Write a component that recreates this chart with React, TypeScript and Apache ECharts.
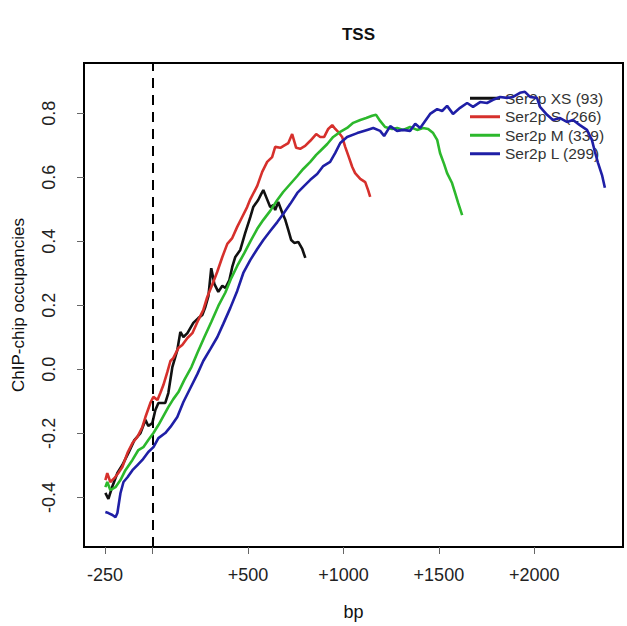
import React, { useEffect, useRef } from "react";
import * as echarts from "echarts";

// Ser2p XS (93)
const xsBp = [-248, -232, -211, -185, -159, -127, -96, -64, -38, -23, -2, 14, 30, 66, 82, 103, 129, 145, 161, 182, 213, 239, 260, 276, 292, 307, 323, 344, 365, 381, 402, 417, 433, 459, 485, 512, 527, 553, 569, 580, 595, 616, 632, 642, 658, 679, 695, 711, 726, 742, 763, 784, 800];
const xsVal = [-0.386, -0.405, -0.365, -0.324, -0.299, -0.261, -0.221, -0.199, -0.158, -0.177, -0.168, -0.127, -0.105, -0.105, -0.074, 0.007, 0.06, 0.117, 0.101, 0.113, 0.145, 0.16, 0.17, 0.195, 0.229, 0.316, 0.267, 0.242, 0.261, 0.254, 0.279, 0.32, 0.351, 0.373, 0.426, 0.476, 0.507, 0.529, 0.548, 0.56, 0.538, 0.507, 0.513, 0.498, 0.523, 0.489, 0.467, 0.435, 0.404, 0.395, 0.398, 0.376, 0.348];

// Ser2p S (266)
const sBp = [-248, -238, -222, -201, -180, -159, -132, -106, -80, -54, -38, -12, 4, 25, 40, 56, 77, 93, 108, 135, 155, 182, 208, 239, 265, 286, 312, 338, 365, 391, 417, 443, 469, 495, 512, 548, 574, 600, 626, 642, 669, 695, 711, 731, 752, 773, 799, 826, 857, 878, 899, 920, 941, 957, 972, 993, 1009, 1030, 1046, 1061, 1088, 1114, 1129, 1140];
const sVal = [-0.346, -0.324, -0.352, -0.34, -0.324, -0.305, -0.261, -0.23, -0.211, -0.18, -0.149, -0.105, -0.086, -0.096, -0.074, -0.049, -0.008, 0.026, 0.035, 0.067, 0.076, 0.098, 0.113, 0.154, 0.185, 0.226, 0.264, 0.304, 0.351, 0.392, 0.41, 0.445, 0.476, 0.507, 0.532, 0.573, 0.617, 0.648, 0.663, 0.695, 0.692, 0.701, 0.707, 0.735, 0.692, 0.689, 0.698, 0.714, 0.735, 0.726, 0.726, 0.751, 0.763, 0.751, 0.742, 0.726, 0.695, 0.66, 0.632, 0.613, 0.595, 0.585, 0.56, 0.539];

// Ser2p M (339)
const mBp = [-248, -238, -222, -195, -169, -143, -106, -75, -49, -23, 4, 30, 56, 82, 108, 135, 166, 203, 234, 271, 307, 344, 381, 412, 443, 480, 512, 548, 580, 616, 653, 684, 721, 758, 789, 826, 857, 878, 915, 946, 983, 1019, 1051, 1088, 1119, 1150, 1171, 1192, 1218, 1255, 1281, 1313, 1349, 1386, 1417, 1444, 1470, 1491, 1506, 1527, 1543, 1569, 1585, 1601, 1622];
const mVal = [-0.368, -0.352, -0.377, -0.368, -0.346, -0.315, -0.283, -0.252, -0.243, -0.221, -0.199, -0.174, -0.146, -0.118, -0.093, -0.071, -0.033, 0.007, 0.051, 0.101, 0.148, 0.198, 0.24, 0.285, 0.323, 0.363, 0.4, 0.439, 0.467, 0.495, 0.529, 0.554, 0.579, 0.604, 0.626, 0.648, 0.67, 0.682, 0.704, 0.726, 0.742, 0.754, 0.77, 0.779, 0.785, 0.792, 0.795, 0.776, 0.757, 0.751, 0.754, 0.748, 0.757, 0.748, 0.754, 0.751, 0.738, 0.717, 0.676, 0.642, 0.613, 0.582, 0.551, 0.52, 0.482];

// Ser2p L (299)
const lBp = [-248, -232, -211, -195, -185, -169, -153, -132, -106, -80, -54, -23, 4, 30, 66, 93, 129, 161, 197, 234, 265, 302, 339, 370, 407, 443, 475, 512, 548, 580, 616, 653, 684, 721, 758, 789, 826, 862, 894, 930, 957, 983, 1019, 1072, 1124, 1156, 1192, 1213, 1245, 1281, 1313, 1349, 1376, 1402, 1428, 1454, 1491, 1517, 1543, 1574, 1611, 1648, 1679, 1716, 1752, 1784, 1821, 1857, 1889, 1925, 1951, 1978, 2014, 2030, 2067, 2098, 2135, 2171, 2203, 2239, 2276, 2302, 2318, 2334, 2355, 2370];
const lVal = [-0.446, -0.449, -0.455, -0.462, -0.449, -0.387, -0.352, -0.337, -0.315, -0.299, -0.283, -0.258, -0.243, -0.215, -0.199, -0.18, -0.149, -0.102, -0.059, -0.015, 0.026, 0.063, 0.101, 0.142, 0.192, 0.245, 0.301, 0.342, 0.376, 0.404, 0.432, 0.46, 0.485, 0.517, 0.551, 0.57, 0.592, 0.61, 0.635, 0.648, 0.676, 0.707, 0.726, 0.738, 0.748, 0.754, 0.745, 0.729, 0.76, 0.745, 0.748, 0.745, 0.767, 0.754, 0.776, 0.798, 0.813, 0.807, 0.823, 0.798, 0.817, 0.832, 0.82, 0.835, 0.832, 0.842, 0.851, 0.848, 0.851, 0.864, 0.867, 0.851, 0.848, 0.82, 0.795, 0.779, 0.785, 0.773, 0.779, 0.763, 0.748, 0.717, 0.679, 0.645, 0.607, 0.567];

const seriesNames = ["Ser2p XS (93)", "Ser2p S (266)", "Ser2p M (339)", "Ser2p L (299)"];
const seriesColors = ["#111111", "#d6302c", "#2cb82c", "#1f1fa6"];
const xTicks = [-250, 0, 500, 1000, 1500, 2000];
const xLabels = [-250, 500, 1000, 1500, 2000];
const yTicks = [-0.4, -0.2, 0, 0.2, 0.4, 0.6, 0.8];

const FONT = "'Liberation Sans', Arial, Helvetica, sans-serif";

function pairs(xs: number[], ys: number[]) {
  return xs.map((x, i) => [x, ys[i]]);
}

export default function App() {
  const ref = useRef<HTMLDivElement>(null);
  useEffect(() => {
    if (!ref.current) return;
    const chart = echarts.init(ref.current, null, { renderer: "svg" });
    const dataSets = [pairs(xsBp, xsVal), pairs(sBp, sVal), pairs(mBp, mVal), pairs(lBp, lVal)];
    const series: any[] = dataSets.map((d, i) => ({
      name: seriesNames[i],
      type: "line",
      data: d,
      showSymbol: false,
      symbol: "none",
      color: seriesColors[i],
      lineStyle: { width: 2.6, color: seriesColors[i] },
      z: 3 + i,
    }));
    series[0].markLine = {
      silent: true,
      symbol: ["none", "none"],
      label: { show: false },
      lineStyle: { color: "#000", type: [10, 7], width: 2 },
      data: [{ xAxis: 0 }],
    };
    chart.setOption({
      animation: false,
      backgroundColor: "#fff",
      textStyle: { fontFamily: FONT },
      title: {
        text: "TSS",
        left: 353.5,
        top: 21,
        textAlign: "center",
        textStyle: { fontSize: 17, fontWeight: "bold", color: "#111", fontFamily: FONT },
      },
      legend: {
        orient: "vertical",
        left: 465,
        top: 84,
        itemWidth: 30,
        itemHeight: 3,
        itemGap: 0,
        itemTextGap: 13,
        icon: "rect",
        selectedMode: false,
        data: seriesNames,
        textStyle: { fontSize: 15.5, lineHeight: 18.5, color: "#333", fontFamily: FONT },
      },
      grid: {
        left: 84,
        right: 4,
        top: 63,
        bottom: 79,
        show: true,
        borderColor: "#000",
        borderWidth: 2,
        containLabel: false,
      },
      xAxis: {
        type: "value",
        min: -360,
        max: 2465,
        name: "bp",
        nameLocation: "middle",
        nameGap: 56,
        nameTextStyle: { fontSize: 18, color: "#111", fontFamily: FONT },
        splitLine: { show: false },
        axisLine: { show: true, onZero: false, lineStyle: { color: "#000", width: 2 } },
        axisTick: { show: true, customValues: xTicks, length: 7, lineStyle: { color: "#666", width: 1 } },
        axisLabel: {
          customValues: xLabels,
          fontSize: 18,
          color: "#222",
          margin: 19,
          fontFamily: FONT,
          formatter: (v: number) => (v > 0 ? "+" + v : String(v)),
        },
      },
      yAxis: {
        type: "value",
        min: -0.555,
        max: 0.957,
        name: "ChIP-chip occupancies",
        nameLocation: "middle",
        nameGap: 57,
        nameRotate: 90,
        nameTextStyle: { fontSize: 17, color: "#111", fontFamily: FONT },
        splitLine: { show: false },
        axisLine: { show: true, onZero: false, lineStyle: { color: "#000", width: 2 } },
        axisTick: { show: true, customValues: yTicks, length: 7, lineStyle: { color: "#666", width: 1 } },
        axisLabel: {
          customValues: yTicks,
          rotate: 90,
          fontSize: 18,
          color: "#222",
          margin: 26,
          fontFamily: FONT,
          formatter: (v: number) => v.toFixed(1),
        },
      },
      series,
    });
    return () => chart.dispose();
  }, []);
  return (
    <div
      ref={ref}
      style={{ position: "fixed", left: 0, top: 0, width: 627, height: 626, background: "#fff" }}
    />
  );
}
